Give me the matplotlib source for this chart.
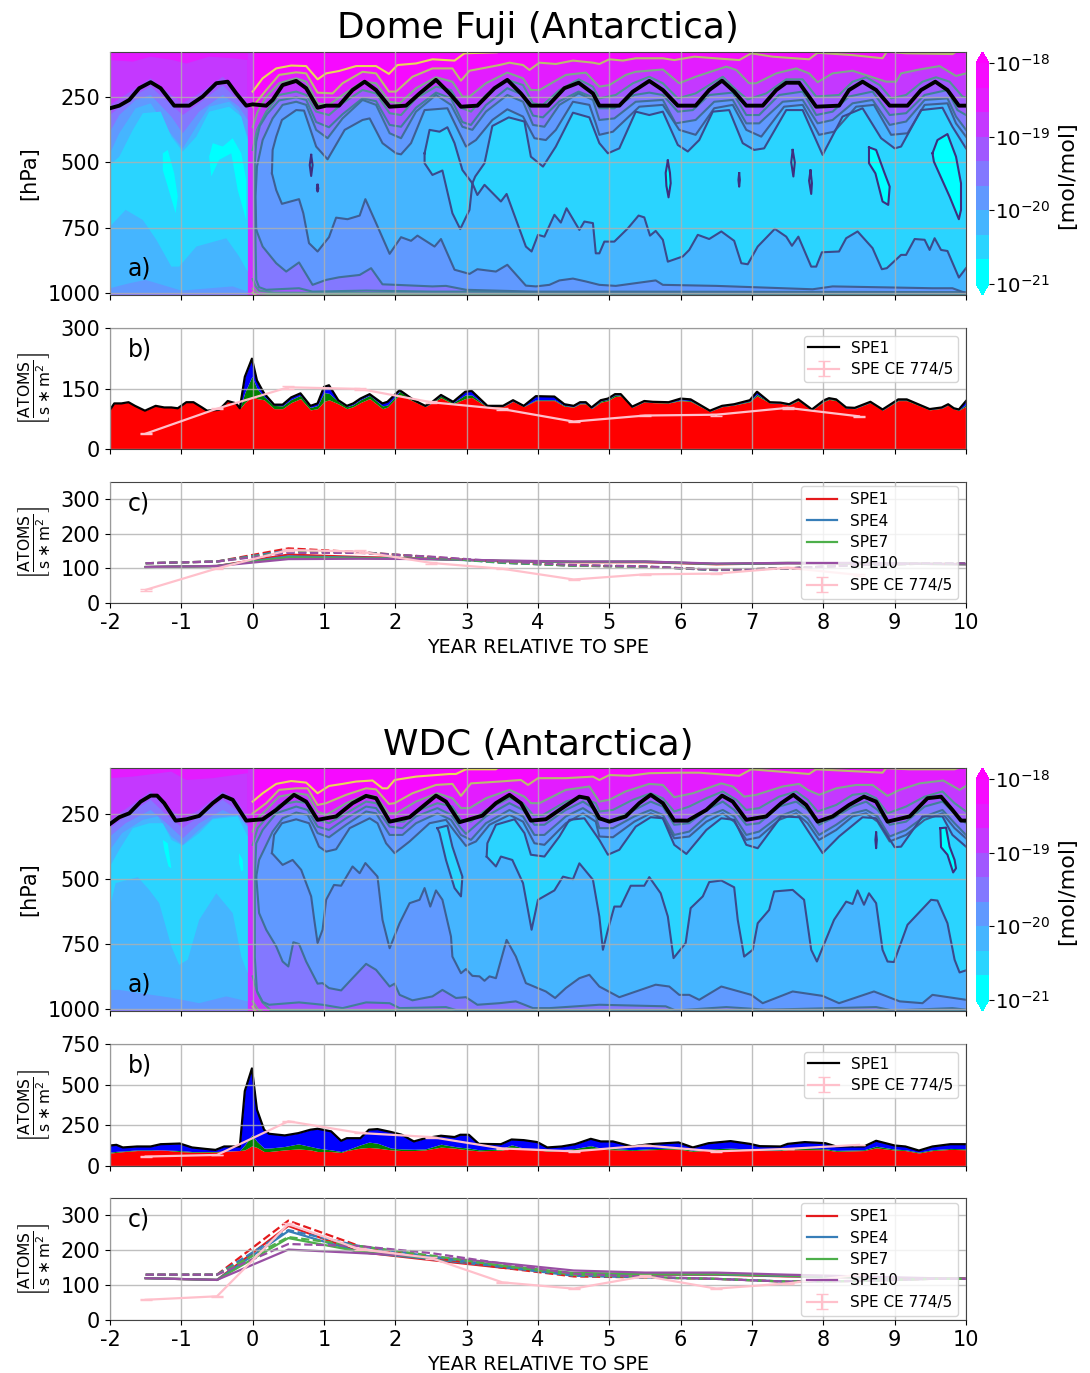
import matplotlib
matplotlib.use('Agg')
import matplotlib.pyplot as plt
from matplotlib.colors import ListedColormap, BoundaryNorm
from matplotlib.cm import ScalarMappable

# Dome Fuji, panel a, tropopause
df_trop_t = [-2, -1.87, -1.73, -1.59, -1.43, -1.29, -1.10, -0.89, -0.70, -0.51, -0.35, -0.23, -0.09, 0, 0.19, 0.28, 0.42, 0.61, 0.75, 0.91, 1.03, 1.21, 1.40, 1.57, 1.73, 1.92, 2.15, 2.34, 2.57, 2.76, 2.92, 3.15, 3.39, 3.57, 3.76, 3.90, 4.14, 4.37, 4.57, 4.77, 4.86, 5.14, 5.33, 5.56, 5.75, 5.96, 6.21, 6.40, 6.58, 6.75, 6.92, 7.15, 7.34, 7.48, 7.66, 7.90, 8.22, 8.36, 8.55, 8.74, 8.93, 9.18, 9.37, 9.57, 9.74, 9.90, 10]
df_trop_p = [292, 282, 260, 215, 192, 215, 282, 282, 247, 196, 190, 235, 282, 277, 282, 260, 203, 187, 215, 290, 282, 282, 222, 190, 222, 286, 282, 235, 183, 235, 286, 282, 215, 183, 235, 282, 282, 215, 194, 235, 282, 282, 228, 187, 222, 282, 282, 222, 186, 228, 282, 282, 222, 194, 194, 286, 282, 222, 190, 222, 282, 282, 222, 190, 222, 282, 282]

# Dome Fuji, contour upper and lower edges, years and hPa
df_A_t = [0, 0.14, 0.33, 0.54, 0.75, 0.91, 1.03, 1.21, 1.45, 1.73, 1.91, 2.03, 2.29, 2.52, 2.83, 2.97, 3.43, 3.5, 10]
df_A_p = [228, 177, 139, 128, 130, 181, 158, 149, 130, 130, 160, 126, 120, 104, 109, 81, 77, 60, 60]
df_B_t = [0, 0.19, 0.37, 0.61, 0.75, 0.91, 1.12, 1.26, 1.54, 1.73, 1.91, 2.01, 2.24, 2.52, 2.80, 2.92, 3.04, 3.46, 3.6, 3.79, 3.88, 4.02, 4.25, 4.49, 4.77, 4.86, 5.0, 5.19, 5.37, 5.75, 5.91, 6.19, 6.82, 6.99, 7.29, 7.8, 7.92, 8.41, 8.83, 8.89, 9.16, 9.81, 9.86, 10]
df_B_p = [286, 222, 164, 154, 158, 232, 235, 196, 152, 158, 228, 228, 171, 139, 139, 186, 148, 126, 117, 126, 145, 117, 122, 109, 117, 122, 104, 109, 100, 100, 107, 94, 107, 81, 94, 104, 79, 88, 100, 75, 81, 84, 75, 70]
df_C_t = [0, 0.07, 0.19, 0.37, 0.61, 0.75, 0.91, 1.07, 1.26, 1.54, 1.73, 1.92, 2.06, 2.29, 2.57, 2.8, 2.94, 3.04, 3.27, 3.57, 3.79, 3.9, 4.02, 4.39, 4.67, 4.86, 5, 5.23, 5.37, 5.75, 5.98, 6.21, 6.64, 6.78, 6.96, 7.06, 7.34, 7.62, 7.8, 7.92, 8.13, 8.41, 8.88, 9.02, 9.09, 9.35, 9.63, 9.86, 10]
df_C_p = [365, 305, 247, 196, 177, 190, 273, 279, 241, 190, 196, 267, 273, 215, 173, 190, 247, 247, 196, 155, 177, 222, 222, 164, 155, 209, 203, 164, 152, 143, 196, 171, 132, 145, 196, 196, 158, 139, 158, 192, 158, 148, 190, 190, 158, 143, 130, 168, 158]
df_D_t = [0, 0.06, 0.19, 0.37, 0.61, 0.75, 0.89, 1.07, 1.26, 1.54, 1.73, 1.92, 2.08, 2.29, 2.57, 2.78, 2.94, 3.06, 3.27, 3.57, 3.79, 3.93, 4.07, 4.3, 4.57, 4.77, 4.86, 5.09, 5.33, 5.56, 5.75, 5.96, 6.21, 6.59, 6.78, 6.94, 7.2, 7.48, 7.71, 7.9, 8.22, 8.41, 8.6, 8.79, 8.95, 9.16, 9.39, 9.58, 9.77, 9.95, 10]
df_D_p = [452, 375, 305, 241, 228, 241, 305, 318, 273, 222, 235, 311, 318, 254, 209, 222, 292, 305, 241, 183, 203, 273, 279, 222, 181, 209, 254, 241, 196, 171, 196, 254, 235, 171, 222, 258, 235, 181, 181, 247, 241, 190, 173, 203, 254, 241, 190, 173, 190, 247, 250]
df_E_t = [0.03, 0.05, 0.1, 0.2, 0.37, 0.61, 0.75, 0.89, 1.07, 1.26, 1.54, 1.73, 1.92, 2.08, 2.29, 2.57, 2.78, 2.94, 3.06, 3.27, 3.57, 3.79, 3.93, 4.07, 4.3, 4.57, 4.77, 4.86, 5.07, 5.35, 5.56, 5.75, 5.96, 6.17, 6.4, 6.73, 6.92, 7.1, 7.38, 7.71, 7.9, 8.13, 8.36, 8.69, 8.93, 9.16, 9.42, 9.74, 9.88, 10]
df_E_p = [500, 420, 360, 315, 262, 250, 260, 345, 365, 315, 254, 265, 356, 363, 290, 232, 254, 345, 356, 280, 215, 241, 320, 327, 265, 228, 250, 292, 292, 241, 232, 241, 305, 299, 241, 232, 318, 318, 241, 228, 318, 305, 247, 228, 318, 311, 241, 222, 299, 318]
df_F_t = [0.05, 0.04, 0.06, 0.14, 0.28, 0.42, 0.61, 0.75, 0.89, 1.05, 1.26, 1.54, 1.73, 1.92, 2.08, 2.29, 2.57, 2.78, 2.94, 3.08, 3.27, 3.57, 3.79, 3.93, 4.09, 4.3, 4.57, 4.77, 4.86, 5.07, 5.37, 5.75, 5.93, 6.21, 6.47, 6.73, 6.92, 7.1, 7.43, 7.71, 7.92, 8.13, 8.41, 8.69, 8.93, 9.16, 9.42, 9.74, 9.86, 10]
df_F_p = [759, 631, 516, 414, 331, 279, 267, 279, 375, 407, 331, 260, 279, 388, 407, 305, 241, 279, 363, 375, 305, 241, 267, 356, 363, 279, 235, 260, 337, 331, 267, 260, 350, 337, 267, 260, 350, 350, 267, 260, 350, 337, 273, 260, 356, 343, 260, 254, 324, 375]
df_G_t = [0.27, 0.28, 0.33, 0.41, 0.61, 0.72, 0.89, 1.05, 1.29, 1.54, 1.64, 1.82, 2.01, 2.08, 2.22, 2.41, 2.73, 2.9, 2.99, 3.13, 3.36, 3.57, 3.79, 3.95, 4.11, 4.25, 4.49, 4.72, 4.81, 4.86, 5.05, 5.42, 5.75, 5.98, 6.21, 6.47, 6.73, 6.92, 7.13, 7.45, 7.71, 7.94, 8.15, 8.46, 8.71, 8.95, 9.18, 9.42, 9.74, 9.86, 10]
df_G_p = [542, 452, 401, 337, 299, 301, 439, 488, 375, 337, 331, 426, 465, 469, 426, 299, 292, 388, 439, 414, 337, 296, 324, 407, 414, 375, 267, 279, 350, 394, 382, 286, 279, 375, 394, 292, 279, 375, 401, 286, 279, 394, 382, 286, 279, 394, 388, 279, 273, 350, 401]
df_H_t = [3.08, 3.12, 3.25, 3.36, 3.59, 3.81, 3.9, 4.07, 4.25, 4.49, 4.72, 4.86, 4.98, 5.14, 5.37, 5.56, 5.75, 5.96, 6.1, 6.26, 6.45, 6.68, 6.87, 7.03, 7.17, 7.48, 7.71, 7.99, 8.27, 8.55, 8.81, 9, 9.09, 9.37, 9.67, 9.81, 10]
df_H_p = [580, 554, 503, 360, 327, 343, 478, 516, 439, 309, 327, 426, 465, 446, 305, 318, 305, 433, 458, 414, 305, 299, 426, 452, 446, 299, 299, 471, 324, 292, 407, 446, 439, 299, 290, 363, 446]

df_Blo_t = [0, 0.06, 10]
df_Blo_p = [1000, 1014, 1014]
df_Clo_t = [0, 0.08, 0.4, 10]
df_Clo_p = [985, 1003, 1008, 1012]
df_Dlo_t = [0, 0.04, 0.09, 0.3, 3, 10]
df_Dlo_p = [948, 975, 992, 1000, 1003, 1006]
df_Elo_t = [0.03, 0.04, 0.05, 0.09, 0.19, 0.65, 0.84, 1.59, 2.52, 2.99, 3.93, 4.86, 10]
df_Elo_p = [500, 800, 951, 979, 989, 983, 996, 992, 996, 996, 998, 1002, 1004]
df_Flo_t = [0.05, 0.14, 0.33, 0.47, 0.65, 0.84, 1.03, 1.21, 1.5, 1.66, 1.82, 2.01, 2.52, 2.71, 2.99, 3.93, 4.86, 10]
df_Flo_p = [759, 823, 887, 919, 884, 970, 951, 941, 932, 906, 968, 970, 976, 974, 989, 996, 996, 998]
df_Glo_t = [0.27, 0.33, 0.41, 0.65, 0.71, 0.79, 0.91, 1.07, 1.17, 1.33, 1.5, 1.58, 1.73, 1.92, 2.08, 2.22, 2.31, 2.55, 2.64, 2.83, 3.04, 3.15, 3.41, 3.57, 3.83, 3.97, 4.16, 4.3, 4.49, 4.67, 4.86, 5.09, 5.65, 5.75, 6.5, 7.85, 8.13, 9.53, 9.81, 10]
df_Glo_p = [542, 606, 659, 641, 695, 810, 842, 787, 712, 718, 704, 641, 733, 851, 787, 801, 781, 823, 794, 912, 928, 910, 919, 893, 973, 976, 970, 953, 946, 957, 970, 974, 953, 970, 974, 987, 976, 983, 983, 1002]
df_Hlo_t = [3.08, 3.15, 3.25, 3.48, 3.56, 3.83, 3.91, 4, 4.09, 4.23, 4.32, 4.4, 4.58, 4.65, 4.77, 4.81, 4.86, 4.93, 5.07, 5.26, 5.41, 5.49, 5.57, 5.65, 5.75, 5.82, 6.03, 6.12, 6.24, 6.4, 6.57, 6.75, 6.85, 6.94, 7.08, 7.32, 7.48, 7.56, 7.65, 7.83, 7.9, 7.98, 8.22, 8.32, 8.48, 8.69, 8.82, 8.89, 9.09, 9.16, 9.28, 9.42, 9.49, 9.56, 9.65, 9.74, 9.9, 10]
df_Hlo_p = [580, 625, 586, 650, 621, 823, 842, 778, 785, 701, 731, 676, 759, 727, 733, 849, 849, 804, 804, 753, 704, 711, 781, 763, 797, 881, 861, 836, 778, 794, 765, 801, 887, 891, 823, 755, 785, 820, 785, 900, 900, 845, 842, 791, 765, 829, 910, 906, 855, 855, 794, 797, 836, 791, 836, 840, 942, 906]

df_H_isl_t = [2.41, 2.48, 2.62, 2.73, 2.83, 2.94, 3.08, 3.04, 2.91, 2.8, 2.66, 2.52, 2.41, 2.41]
df_H_isl_p = [465, 375, 382, 365, 426, 529, 580, 682, 756, 695, 531, 548, 503, 465]
df_I_isl_t = [[0.82, 0.84, 0.82, 0.80, 0.82], [0.91, 0.92, 0.91, 0.90, 0.91], [5.82, 5.85, 5.86, 5.83, 5.8, 5.79, 5.82], [6.82, 6.83, 6.82, 6.81, 6.82], [7.57, 7.6, 7.58, 7.55, 7.57], [7.82, 7.84, 7.83, 7.8, 7.82], [8.64, 8.74, 8.85, 8.93, 8.91, 8.83, 8.73, 8.64, 8.64], [9.53, 9.6, 9.74, 9.86, 9.93, 9.93, 9.9, 9.77, 9.55, 9.53]]
df_I_isl_p = [[471, 510, 552, 510, 471], [586, 600, 612, 600, 586], [493, 540, 580, 634, 590, 540, 493], [541, 567, 593, 567, 541], [452, 500, 554, 500, 452], [531, 580, 621, 570, 531], [442, 452, 535, 593, 663, 650, 542, 503, 442], [465, 414, 391, 478, 580, 682, 718, 631, 497, 465]]

# Dome Fuji, time before the event
df_LC_t = [-2, -1.68, -1.43, -1.12, -0.93, -0.61, -0.28, -0.07]
df_LC_p = [107, 113, 94, 107, 120, 94, 100, 107]
df_LD_t = [-2, -1.68, -1.43, -1.14, -0.98, -0.75, -0.42, -0.19, -0.07]
df_LD_p = [279, 222, 177, 241, 273, 235, 171, 235, 273]
df_LE_p = [318, 247, 209, 279, 318, 273, 203, 267, 299]
df_LF_t = [-2, -1.87, -1.64, -1.43, -1.14, -0.98, -0.75, -0.42, -0.19, -0.07]
df_LF_p = [382, 318, 260, 241, 324, 388, 305, 241, 286, 337]
df_LG_t = [-2, -1.87, -1.64, -1.43, -1.19, -0.98, -0.79, -0.61, -0.33, -0.19, -0.07]
df_LG_p = [465, 388, 292, 273, 375, 446, 363, 286, 267, 305, 401]
df_LGlo_t = [-2, -1.73, -1.5, -1, -0.28, -0.07]
df_LGlo_p = [983, 964, 951, 992, 976, 996]
df_LH_t = [-2, -1.87, -1.68, -1.54, -1.29, -1.14, -0.98, -0.79, -0.61, -0.33, -0.16, -0.07]
df_LH_p = [510, 478, 375, 311, 305, 401, 458, 401, 305, 286, 324, 414]
df_LHlo_t = [-2, -1.78, -1.54, -1.35, -1.14, -1.03, -0.79, -0.37, -0.19, -0.07]
df_LHlo_p = [746, 682, 721, 797, 900, 900, 823, 791, 861, 919]
df_LI_t = [[-1.26, -1.19, -1.1, -1.05, -1.08, -1.19, -1.26], [-0.61, -0.56, -0.42, -0.28, -0.16, -0.09, -0.09, -0.21, -0.3, -0.47, -0.58]]
df_LI_p = [[465, 452, 542, 631, 695, 593, 529], [478, 426, 439, 407, 465, 567, 721, 606, 465, 490, 554]]

# Dome Fuji, panel b
df_b_t = [-2, -1.94, -1.84, -1.74, -1.65, -1.51, -1.36, -1.24, -1.14, -1.05, -0.93, -0.83, -0.71, -0.64, -0.47, -0.35, -0.23, -0.18, -0.11, -0.01, 0.06, 0.16, 0.3, 0.42, 0.54, 0.67, 0.81, 0.91, 1.0, 1.07, 1.2, 1.32, 1.41, 1.51, 1.64, 1.82, 1.89, 2.06, 2.26, 2.42, 2.52, 2.64, 2.81, 2.98, 3.07, 3.29, 3.51, 3.65, 3.8, 3.97, 4.23, 4.37, 4.5, 4.59, 4.67, 4.75, 4.88, 4.98, 5.08, 5.16, 5.32, 5.49, 5.61, 5.83, 6.0, 6.14, 6.41, 6.58, 6.75, 6.97, 7.07, 7.25, 7.4, 7.52, 7.65, 7.84, 8.01, 8.08, 8.18, 8.32, 8.44, 8.66, 8.83, 9.05, 9.17, 9.49, 9.66, 9.75, 9.83, 9.9, 10]
df_b_blue = [97, 113, 113, 116, 107, 95, 107, 103, 103, 101, 116, 116, 103, 95, 97, 119, 113, 101, 179, 224, 170, 138, 110, 110, 128, 138, 107, 113, 154, 158, 121, 107, 113, 125, 136, 113, 117, 146, 121, 107, 117, 134, 117, 142, 144, 107, 107, 121, 107, 131, 130, 111, 107, 116, 116, 103, 121, 125, 136, 136, 105, 119, 117, 116, 125, 123, 95, 107, 111, 121, 142, 116, 115, 111, 123, 98, 121, 126, 123, 103, 102, 117, 98, 123, 123, 99, 103, 111, 101, 98, 119]
df_b_green = [97, 113, 113, 116, 107, 95, 107, 103, 103, 101, 116, 116, 103, 95, 97, 119, 113, 101, 140, 180, 150, 130, 108, 107, 123, 133, 103, 108, 140, 138, 118, 105, 110, 122, 133, 107, 109, 143, 120, 106, 116, 132, 115, 134, 134, 105, 106, 119, 106, 122, 122, 108, 105, 114, 114, 101, 119, 123, 134, 134, 104, 118, 116, 115, 122, 120, 94, 106, 110, 119, 136, 115, 114, 110, 122, 97, 120, 125, 122, 102, 101, 116, 97, 122, 122, 98, 102, 110, 100, 97, 110]
df_b_red = [97, 113, 113, 116, 107, 95, 107, 103, 103, 101, 116, 116, 103, 95, 97, 119, 113, 100, 115, 130, 125, 122, 100, 100, 115, 125, 97, 100, 118, 122, 112, 100, 105, 115, 125, 100, 104, 135, 118, 105, 115, 127, 112, 125, 128, 104, 105, 118, 105, 120, 120, 106, 104, 112, 112, 100, 116, 120, 130, 132, 103, 117, 115, 114, 120, 118, 93, 105, 109, 117, 132, 114, 113, 109, 120, 96, 118, 123, 120, 101, 100, 115, 96, 120, 120, 97, 101, 109, 99, 96, 106]

# WDC, panel a, tropopause
wd_trop_t = [-2, -1.87, -1.73, -1.57, -1.43, -1.34, -1.24, -1.08, -0.93, -0.75, -0.56, -0.42, -0.28, -0.09, 0.14, 0.33, 0.58, 0.75, 0.91, 1.17, 1.4, 1.59, 1.73, 1.92, 2.2, 2.57, 2.71, 2.9, 3.22, 3.41, 3.6, 3.76, 3.9, 4.11, 4.37, 4.58, 4.7, 4.86, 5, 5.23, 5.42, 5.58, 5.75, 5.91, 6.1, 6.36, 6.58, 6.73, 6.92, 7.2, 7.41, 7.58, 7.76, 7.92, 8.13, 8.36, 8.57, 8.74, 8.9, 9.21, 9.46, 9.65, 9.81, 9.93, 10]
wd_trop_p = [289, 263, 248, 203, 180, 180, 209, 276, 271, 258, 209, 180, 196, 276, 271, 235, 177, 203, 273, 260, 209, 181, 190, 280, 263, 180, 203, 282, 257, 209, 177, 209, 276, 271, 222, 184, 190, 267, 280, 260, 209, 177, 209, 276, 276, 235, 180, 203, 273, 260, 209, 177, 216, 280, 260, 216, 184, 203, 280, 260, 190, 184, 235, 276, 276]

wd_A_t = [0, 0.14, 0.33, 0.54, 0.75, 0.91, 1.07, 1.26, 1.45, 1.68, 1.82, 1.89, 1.99, 2.29, 2.76, 2.85, 2.99, 3.41, 3.5, 10]
wd_A_p = [203, 171, 135, 124, 130, 171, 143, 135, 126, 122, 152, 152, 120, 107, 97, 97, 79, 79, 60, 60]
wd_B_t = [0, 0.19, 0.37, 0.61, 0.77, 0.91, 1.03, 1.31, 1.59, 1.73, 1.91, 1.99, 2.24, 2.57, 2.8, 2.92, 3.06, 3.46, 3.76, 3.86, 4, 4.39, 4.77, 4.86, 5, 5.28, 5.56, 5.98, 6.26, 6.82, 6.99, 7.8, 7.9, 8.83, 8.88, 9.21, 9.84, 9.88, 10]
wd_B_p = [248, 209, 158, 152, 152, 216, 209, 177, 152, 156, 212, 209, 171, 139, 135, 181, 133, 126, 120, 139, 113, 113, 107, 120, 101, 104, 94, 92, 92, 104, 79, 97, 79, 92, 75, 79, 79, 75, 70]
wd_C_t = [0, 0.07, 0.19, 0.37, 0.61, 0.77, 0.91, 1.03, 1.31, 1.59, 1.73, 1.91, 2.01, 2.29, 2.59, 2.8, 2.92, 3.04, 3.27, 3.6, 3.81, 3.9, 4.02, 4.39, 4.72, 4.86, 5, 5.23, 5.56, 5.75, 5.91, 6.17, 6.57, 6.73, 6.89, 7.06, 7.43, 7.66, 7.78, 7.94, 8.18, 8.46, 8.69, 8.9, 9.07, 9.35, 9.68, 9.91, 10]
wd_C_p = [318, 267, 235, 184, 171, 177, 241, 254, 209, 177, 184, 248, 248, 203, 171, 190, 228, 228, 190, 158, 184, 209, 209, 158, 145, 203, 196, 164, 135, 139, 186, 171, 133, 145, 184, 177, 145, 135, 158, 177, 152, 139, 139, 181, 158, 133, 122, 158, 143]
wd_D_t = [0, 0.07, 0.23, 0.37, 0.61, 0.77, 0.91, 1.07, 1.31, 1.59, 1.73, 1.95, 2.12, 2.29, 2.59, 2.8, 2.92, 3.06, 3.27, 3.6, 3.79, 3.93, 4.07, 4.39, 4.6, 4.81, 4.86, 5.05, 5.33, 5.58, 5.75, 5.91, 6.12, 6.36, 6.59, 6.78, 6.92, 7.1, 7.38, 7.62, 7.78, 7.92, 8.18, 8.41, 8.6, 8.74, 8.9, 9.16, 9.42, 9.67, 9.84, 10]
wd_D_p = [369, 305, 254, 216, 203, 209, 273, 286, 248, 203, 209, 280, 280, 241, 209, 222, 273, 280, 235, 190, 209, 254, 254, 203, 186, 209, 241, 235, 196, 171, 190, 241, 222, 190, 164, 196, 235, 228, 184, 164, 196, 241, 216, 177, 171, 190, 248, 222, 184, 164, 209, 241]
wd_E_t = [0.03, 0.05, 0.14, 0.33, 0.61, 0.77, 0.91, 1.07, 1.31, 1.59, 1.73, 1.92, 2.1, 2.29, 2.59, 2.78, 2.92, 2.99, 3.27, 3.6, 3.79, 3.95, 4.09, 4.39, 4.63, 4.81, 4.86, 5.05, 5.35, 5.58, 5.75, 5.91, 6.12, 6.36, 6.59, 6.75, 6.92, 7.1, 7.38, 7.62, 7.78, 7.94, 8.18, 8.41, 8.6, 8.76, 8.93, 9.16, 9.42, 9.67, 9.84, 10]
wd_E_p = [491, 363, 312, 248, 222, 235, 299, 312, 267, 222, 228, 299, 305, 260, 228, 254, 305, 327, 260, 209, 235, 292, 292, 235, 203, 235, 273, 273, 235, 203, 222, 292, 286, 235, 203, 235, 292, 286, 222, 203, 235, 292, 260, 222, 203, 235, 292, 280, 222, 203, 248, 286]
wd_F_t = [0.05, 0.09, 0.28, 0.42, 0.61, 0.77, 0.91, 1.07, 1.31, 1.59, 1.73, 1.92, 2.1, 2.29, 2.59, 2.78, 2.92, 3.06, 3.27, 3.6, 3.79, 3.95, 4.09, 4.39, 4.63, 4.81, 4.86, 5.05, 5.35, 5.58, 5.75, 5.91, 6.12, 6.36, 6.59, 6.75, 6.92, 7.1, 7.38, 7.62, 7.78, 7.94, 8.18, 8.41, 8.6, 8.76, 8.93, 9.16, 9.42, 9.67, 9.84, 10]
wd_F_p = [491, 427, 318, 267, 245, 254, 324, 340, 292, 241, 248, 331, 331, 286, 248, 273, 331, 350, 286, 235, 260, 331, 331, 260, 228, 260, 305, 305, 260, 235, 254, 331, 318, 260, 235, 260, 331, 318, 260, 235, 267, 331, 292, 248, 235, 260, 337, 312, 260, 235, 286, 331]
wd_G_t = [0.27, 0.3, 0.41, 0.61, 0.79, 0.93, 1.03, 1.17, 1.36, 1.64, 1.75, 1.87, 1.99, 2.2, 2.48, 2.71, 2.85, 2.99, 3.13, 3.32, 3.6, 3.79, 3.95, 4.09, 4.39, 4.63, 4.81, 4.86, 5.05, 5.35, 5.58, 5.75, 5.91, 6.12, 6.36, 6.59, 6.75, 6.92, 7.1, 7.38, 7.62, 7.78, 7.94, 8.18, 8.41, 8.6, 8.76, 8.93, 9.16, 9.42, 9.67, 9.84, 10]
wd_G_p = [401, 331, 286, 271, 286, 376, 395, 386, 305, 267, 286, 363, 401, 356, 286, 273, 324, 373, 356, 292, 254, 280, 363, 369, 286, 248, 280, 337, 340, 280, 248, 267, 344, 337, 280, 248, 280, 350, 340, 273, 248, 286, 350, 312, 260, 248, 280, 356, 331, 273, 248, 305, 344]
wd_H_t = [3.28, 3.29, 3.41, 3.67, 3.81, 3.9, 4.09, 4.3, 4.44, 4.65, 4.86, 4.98, 5.14, 5.37, 5.58, 5.75, 5.91, 6.08, 6.36, 6.57, 6.75, 6.92, 7.08, 7.41, 7.66, 7.99, 8.22, 8.55, 8.74, 9, 9.09, 9.39, 9.67, 9.81, 10]
wd_H_p = [414, 363, 292, 271, 324, 407, 414, 337, 273, 267, 350, 407, 388, 299, 263, 267, 369, 404, 312, 267, 273, 369, 382, 260, 263, 401, 337, 263, 267, 378, 376, 260, 260, 331, 376]

wd_Blo_t = [0, 0.05, 10]
wd_Blo_p = [990, 1012, 1012]
wd_Clo_t = [0, 0.07, 0.15, 10]
wd_Clo_p = [970, 1000, 1012, 1012]
wd_Dlo_t = [0, 0.07, 0.14, 0.25, 10]
wd_Dlo_p = [874, 940, 975, 1003, 1006]
wd_Elo_t = [0.03, 0.03, 0.06, 0.14, 0.23, 0.65, 0.98, 1.26, 1.59, 1.92, 2.06, 2.71, 2.87, 10]
wd_Elo_p = [491, 800, 930, 972, 983, 974, 983, 996, 974, 977, 996, 992, 1005, 1006]
wd_Flo_t = [0.05, 0.09, 0.19, 0.33, 0.42, 0.5, 0.57, 0.65, 0.75, 0.91, 0.98, 1.07, 1.24, 1.4, 1.59, 1.73, 1.92, 1.99, 2.06, 2.24, 2.52, 2.66, 2.85, 2.99, 3.15, 3.46, 3.69, 3.93, 4.16, 4.86, 5.79, 5.93, 6.64, 7.2, 8.74, 8.97, 9.81, 10]
wd_Flo_p = [491, 631, 695, 759, 817, 836, 743, 750, 817, 902, 900, 919, 928, 881, 826, 849, 913, 902, 945, 966, 951, 926, 957, 954, 983, 977, 970, 996, 996, 983, 989, 1005, 992, 1002, 992, 1005, 996, 1002]
wd_Glo_t = [0.27, 0.42, 0.56, 0.68, 0.82, 0.86, 0.91, 0.98, 1.03, 1.14, 1.24, 1.4, 1.5, 1.58, 1.75, 1.82, 1.92, 2.06, 2.2, 2.34, 2.41, 2.49, 2.57, 2.66, 2.78, 2.8, 2.92, 2.99, 3.08, 3.18, 3.25, 3.32, 3.41, 3.56, 3.69, 3.83, 4.11, 4.24, 4.39, 4.58, 4.72, 4.86, 5.14, 5.65, 5.84, 5.98, 6.12, 6.26, 6.57, 6.99, 7.15, 7.57, 7.99, 8.22, 8.71, 9.07, 9.39, 9.53, 10]
wd_Glo_p = [401, 446, 427, 465, 567, 650, 746, 695, 580, 523, 526, 452, 478, 439, 491, 657, 766, 670, 593, 580, 535, 606, 544, 580, 721, 798, 862, 846, 872, 874, 891, 874, 881, 734, 798, 900, 932, 957, 919, 881, 868, 913, 954, 906, 913, 945, 945, 964, 913, 945, 977, 932, 949, 977, 932, 970, 977, 945, 964]
wd_Hlo_t = [3.28, 3.41, 3.48, 3.64, 3.79, 3.91, 4, 4.23, 4.35, 4.49, 4.58, 4.77, 4.86, 4.91, 4.98, 5.07, 5.16, 5.3, 5.49, 5.56, 5.72, 5.82, 5.9, 6.07, 6.14, 6.31, 6.4, 6.57, 6.75, 6.8, 6.89, 7.01, 7.08, 7.24, 7.31, 7.57, 7.73, 7.83, 7.91, 8.15, 8.32, 8.41, 8.48, 8.57, 8.64, 8.74, 8.83, 8.9, 8.99, 9.18, 9.51, 9.6, 9.74, 9.84, 9.91, 10]
wd_Hlo_p = [414, 452, 414, 427, 516, 695, 580, 544, 491, 501, 440, 503, 644, 772, 695, 606, 606, 526, 526, 493, 555, 644, 804, 746, 612, 567, 512, 506, 532, 657, 798, 772, 670, 619, 548, 542, 580, 772, 817, 657, 587, 596, 544, 599, 555, 593, 772, 817, 819, 676, 580, 583, 670, 810, 859, 851]

wd_H_isl_t = [2.59, 2.73, 2.8, 2.94, 2.92, 2.83, 2.71, 2.62, 2.59]
wd_H_isl_p = [305, 295, 376, 491, 567, 535, 427, 324, 305]
wd_I_isl_t = [[8.74, 8.75, 8.74, 8.73, 8.74], [9.64, 9.72, 9.77, 9.84, 9.86, 9.82, 9.74, 9.65, 9.64]]
wd_I_isl_p = [[322, 350, 382, 350, 322], [305, 303, 376, 427, 459, 475, 407, 378, 305]]

wd_LC_t = [-2, -1.68, -1.14, -0.93, -0.56, -0.07]
wd_LC_p = [113, 107, 88, 120, 113, 94]
wd_LD_t = [-2, -1.73, -1.43, -1.21, -0.98, -0.75, -0.42, -0.23, -0.07]
wd_LD_p = [273, 222, 164, 222, 267, 235, 164, 196, 267]
wd_LE_p = [305, 248, 196, 254, 305, 260, 196, 235, 292]
wd_LF_t = [-2, -1.78, -1.43, -1.21, -0.98, -0.75, -0.42, -0.23, -0.07]
wd_LF_p = [337, 286, 235, 286, 344, 286, 235, 260, 318]
wd_LG_t = [-2, -1.83, -1.54, -1.33, -1.14, -0.98, -0.75, -0.56, -0.21, -0.07]
wd_LG_p = [388, 324, 273, 260, 337, 369, 312, 267, 254, 299]
wd_LGlo_t = [-2, -1.87, -1.59, -1.12, -0.75, -0.37, -0.07]
wd_LGlo_p = [926, 926, 938, 957, 977, 951, 970]
wd_LH_t = [-2, -1.87, -1.68, -1.45, -1.26, -1.14, -0.98, -0.75, -0.56, -0.21, -0.07]
wd_LH_p = [452, 388, 305, 286, 286, 350, 372, 324, 271, 260, 337]
wd_LHlo_t = [-2, -1.92, -1.61, -1.45, -1.31, -1.14, -1.03, -0.91, -0.75, -0.51, -0.28, -0.16, -0.07]
wd_LHlo_p = [606, 516, 493, 542, 593, 759, 830, 810, 657, 555, 631, 798, 862]
wd_LI_t = [[-1.26, -1.19, -1.14, -1.18, -1.24], [-0.19, -0.14, -0.13, -0.16, -0.19]]
wd_LI_p = [[350, 363, 459, 452, 388], [401, 427, 465, 471, 439]]

# WDC, panel b
wd_b_t = [-2, -1.91, -1.82, -1.62, -1.43, -1.29, -1.02, -0.85, -0.66, -0.52, -0.4, -0.18, -0.11, -0.01, 0.06, 0.16, 0.23, 0.45, 0.64, 0.81, 0.91, 1.1, 1.24, 1.32, 1.51, 1.63, 1.75, 1.94, 2.09, 2.26, 2.42, 2.64, 2.83, 2.91, 3.03, 3.17, 3.48, 3.63, 3.8, 3.99, 4.13, 4.33, 4.52, 4.74, 4.88, 5.05, 5.32, 5.56, 5.97, 6.17, 6.39, 6.7, 6.97, 7.11, 7.4, 7.5, 7.74, 8.03, 8.18, 8.57, 8.74, 9, 9.15, 9.34, 9.53, 9.78, 10]
wd_b_blue = [126, 130, 114, 120, 120, 134, 138, 114, 105, 99, 120, 120, 461, 600, 347, 223, 198, 188, 202, 223, 229, 213, 155, 171, 171, 223, 227, 209, 192, 151, 171, 186, 178, 192, 192, 136, 134, 163, 159, 147, 114, 120, 134, 167, 151, 151, 120, 134, 145, 114, 140, 153, 136, 122, 120, 136, 147, 140, 120, 120, 155, 126, 120, 95, 120, 134, 134]
wd_b_green = [85, 90, 92, 99, 99, 99, 95, 89, 89, 89, 92, 95, 130, 192, 151, 110, 110, 120, 136, 120, 110, 99, 89, 99, 130, 147, 140, 110, 105, 103, 105, 134, 120, 115, 110, 100, 105, 130, 110, 108, 98, 100, 108, 125, 110, 108, 100, 106, 112, 96, 105, 110, 104, 100, 100, 106, 108, 106, 96, 100, 122, 104, 100, 85, 100, 108, 106]
wd_b_red = [79, 84, 88, 95, 95, 99, 89, 85, 85, 85, 90, 95, 99, 124, 114, 89, 89, 99, 105, 99, 89, 89, 83, 95, 110, 114, 110, 99, 95, 95, 99, 116, 110, 105, 99, 93, 97, 110, 103, 99, 92, 96, 100, 108, 102, 100, 95, 100, 104, 90, 98, 102, 98, 95, 95, 100, 100, 100, 90, 95, 112, 98, 95, 80, 95, 102, 100]

# panel c, half-yearly means
c_t = [-1.5, -0.5, 0.5, 1.5, 2.5, 3.5, 4.5, 5.5, 6.5, 7.5, 8.5, 9.5, 10.5]
df_c_spe1 = [104, 107, 140, 133, 128, 121, 118, 118, 112, 115, 114, 113, 112]
df_c_spe4 = [104, 107, 135, 131, 127, 121, 119, 119, 113, 115, 115, 113, 112]
df_c_spe7 = [104, 107, 132, 130, 127, 122, 119, 120, 113, 116, 115, 113, 112]
df_c_spe10 = [104, 107, 127, 128, 127, 123, 120, 120, 114, 116, 116, 113, 112]
df_d_spe1 = [115, 120, 158, 147, 133, 117, 108, 105, 96, 100, 110, 114, 114]
df_d_spe4 = [115, 120, 152, 147, 132, 116, 108, 105, 95, 100, 110, 114, 114]
df_d_spe7 = [115, 120, 148, 146, 132, 117, 108, 105, 96, 100, 110, 114, 114]
df_d_spe10 = [115, 120, 145, 145, 134, 120, 110, 106, 96, 100, 110, 115, 114]
wd_c_spe1 = [120, 115, 270, 195, 172, 150, 132, 130, 130, 125, 122, 118, 118]
wd_c_spe4 = [120, 115, 255, 195, 175, 152, 133, 131, 131, 126, 122, 118, 118]
wd_c_spe7 = [120, 115, 235, 196, 178, 156, 135, 132, 132, 127, 123, 118, 118]
wd_c_spe10 = [120, 115, 202, 192, 182, 163, 142, 136, 136, 130, 125, 120, 118]
wd_d_spe1 = [130, 130, 285, 212, 180, 150, 125, 122, 118, 110, 112, 118, 118]
wd_d_spe4 = [130, 130, 258, 212, 182, 152, 127, 122, 118, 110, 112, 118, 118]
wd_d_spe7 = [130, 130, 238, 212, 185, 155, 130, 123, 118, 110, 112, 118, 118]
wd_d_spe10 = [130, 130, 218, 212, 192, 162, 133, 124, 118, 110, 112, 118, 118]

# ice core record
ce_t = [-1.5, -0.5, 0.5, 1.5, 2.5, 3.5, 4.5, 5.5, 6.5, 7.5, 8.5]
df_ce = [38, 100, 153, 149, 116, 99, 68, 83, 85, 102, 81]
wd_ce = [58, 68, 275, 203, 178, 108, 90, 126, 90, 105, 130]
ce_err = [2, 2, 3, 3, 3, 2, 2, 2, 2, 2, 2]

year_labels = ['-2', '-1', '0', '1', '2', '3', '4', '5', '6', '7', '8', '9', '10']
years = list(range(-2, 11))
p_ticks = [250, 500, 750, 1000]
cbar_levels = [1e-21, 10**-20.667, 10**-20.333, 1e-20, 10**-19.667, 10**-19.333, 1e-19, 10**-18.667, 10**-18.333, 1e-18]
cbar_ticks = [1e-21, 1e-20, 1e-19, 1e-18]
cbar_labels = ['$10^{-21}$', '$10^{-20}$', '$10^{-19}$', '$10^{-18}$']

W, H = 1090, 1373
BAND = {'A': '#F60AFF', 'B': '#E31CFF', 'C': '#C438FF', 'D': '#A058FF', 'E': '#8378FF',
        'F': '#6099FF', 'G': '#45B5FF', 'H': '#2AD4FF', 'I': '#00FFFF'}
LINE = {'A': '#E8D858', 'B': '#B9BC70', 'C': '#7DA88C', 'D': '#4F9296', 'E': '#40809A',
        'F': '#3F7098', 'G': '#3E5F93', 'H': '#3B4A8C', 'I': '#3E2F80'}
SPE_COL = ['#e41a1c', '#377eb8', '#4daf4a', '#984ea3']
ATOMS = r'$\left[\frac{\mathrm{ATOMS}}{\mathrm{s\ast m^2}}\right]$'

plt.rcParams['font.family'] = 'DejaVu Sans'
fig = plt.figure(figsize=(W / 100, H / 100), dpi=100)


def add_ax(x0, y0, x1, y1):
    return fig.add_axes([x0 / W, 1 - y1 / H, (x1 - x0) / W, (y1 - y0) / H])


def poly(ax, t, p, color, z=1):
    ax.fill(t, p, color=color, lw=0, zorder=z)


def level(ax, key, up_t, up_p, lo_t, lo_p):
    poly(ax, up_t + lo_t[::-1], up_p + lo_p[::-1], BAND[key])
    ax.plot(up_t, up_p, color=LINE[key], lw=1.5, zorder=2)
    ax.plot(lo_t, lo_p, color=LINE[key], lw=1.5, zorder=2)


def style_time(ax, labels=False):
    ax.set_xlim(-2, 10)
    ax.set_xticks(years)
    ax.set_xticklabels(year_labels if labels else [])
    ax.tick_params(labelsize=15, pad=3.5)
    ax.grid(True, color='#b0b0b0', lw=1.0, alpha=0.8)
    ax.set_axisbelow(False)
    for s in ax.spines.values():
        s.set_color('#444444')


def panel_a(ax, ylim, levels, left, trop):
    ax.set_facecolor(BAND['A'])
    ax.axvspan(-2, 0, color=BAND['B'], lw=0, zorder=0.5)
    ax.axvspan(-0.07, 0, color='#D02EFF', lw=0, zorder=0.7)
    # pre event bands
    bottom_t = [-2, -0.07]
    for key, t, p in left['open']:
        poly(ax, t + bottom_t[::-1], p + [1020, 1020], BAND[key])
    poly(ax, left['F_t'] + bottom_t[::-1], left['F_p'] + [1002, 1002], BAND['F'])
    poly(ax, left['G_t'] + left['Glo_t'][::-1], left['G_p'] + left['Glo_p'][::-1], BAND['G'])
    poly(ax, left['H_t'] + left['Hlo_t'][::-1], left['H_p'] + left['Hlo_p'][::-1], BAND['H'])
    for t, p in zip(left['I_t'], left['I_p']):
        poly(ax, t, p, BAND['I'])
    # after the event, nested contour regions
    for key, up_t, up_p, lo_t, lo_p in levels:
        level(ax, key, up_t, up_p, lo_t, lo_p)
    ax.plot(trop[0], trop[1], color='black', lw=2.8, zorder=4)
    ax.set_ylim(*ylim)
    ax.set_yticks(p_ticks)
    style_time(ax)
    ax.set_ylabel('[hPa]', fontsize=15)
    ax.yaxis.set_label_coords(-0.083, 0.5)
    ax.text(0.021, 0.11, 'a)', transform=ax.transAxes, fontsize=17, va='center', zorder=5)


def colorbar(y0, y1):
    cax = add_ax(976, y0, 989, y1)
    cmap = ListedColormap([BAND[k] for k in 'IHGFEDCBA'])
    cmap.set_under('#00FFFF')
    cmap.set_over('#FF00FF')
    norm = BoundaryNorm(cbar_levels, cmap.N)
    cb = fig.colorbar(ScalarMappable(norm=norm, cmap=cmap), cax=cax, extend='both',
                      extendfrac=0.05, spacing='uniform', ticks=cbar_ticks)
    cb.set_ticklabels(cbar_labels)
    cb.ax.minorticks_off()
    cb.ax.tick_params(labelsize=14.2, length=3.5, pad=1)
    cb.outline.set_visible(False)
    fig.text(1067 / W, 1 - (y0 + 123) / H, '[mol/mol]', rotation=90, fontsize=16,
             ha='center', va='center')


def panel_b(ax, t, red, green, blue, ymax, yticks, ce):
    ax.fill_between(t, 0, red, color='red', lw=0, zorder=1)
    ax.fill_between(t, red, green, color='green', lw=0, zorder=1)
    ax.fill_between(t, green, blue, color='blue', lw=0, zorder=1)
    ax.plot(t, blue, color='black', lw=1.6, label='SPE1', zorder=2)
    ax.errorbar(ce_t, ce, yerr=ce_err, color='pink', lw=1.6, capsize=4.5, label='SPE CE 774/5', zorder=3)
    ax.set_ylim(0, ymax)
    ax.set_yticks(yticks)
    style_time(ax)
    ax.set_ylabel(ATOMS, fontsize=16)
    ax.yaxis.set_label_coords(-0.066, 0.5)
    ax.text(0.021, 0.82, 'b)', transform=ax.transAxes, fontsize=17, va='center', zorder=5)
    ax.legend(loc='upper right', bbox_to_anchor=(0.9907, 0.934), fontsize=11, borderaxespad=0,
              labelspacing=0.42, borderpad=0.3)


def panel_c(ax, solid, dashed, ce):
    names = ['SPE1', 'SPE4', 'SPE7', 'SPE10']
    for vals, col, name in zip(solid, SPE_COL, names):
        ax.plot(c_t, vals, color=col, lw=1.6, label=name, zorder=2)
    for vals, col in zip(dashed, SPE_COL):
        ax.plot(c_t, vals, color=col, lw=1.6, ls='--', zorder=2)
    ax.errorbar(ce_t, ce, yerr=ce_err, color='pink', lw=1.6, capsize=4.5, label='SPE CE 774/5', zorder=3)
    ax.set_ylim(0, 350)
    ax.set_yticks([0, 100, 200, 300])
    style_time(ax, labels=True)
    ax.set_ylabel(ATOMS, fontsize=16)
    ax.yaxis.set_label_coords(-0.066, 0.5)
    ax.text(0.021, 0.826, 'c)', transform=ax.transAxes, fontsize=17, va='center', zorder=5)
    ax.set_xlabel('YEAR RELATIVE TO SPE', fontsize=13.8, labelpad=4)
    ax.legend(loc='lower right', bbox_to_anchor=(0.9907, 0.033), fontsize=11, borderaxespad=0,
              labelspacing=0.42)


# Dome Fuji
top_t = [0, 10]
ax = add_ax(110, 52, 966, 295)
df_levels = [
    ('A', df_A_t, df_A_p, top_t, [1020, 1020]),
    ('B', df_B_t, df_B_p, df_Blo_t, df_Blo_p),
    ('C', df_C_t, df_C_p, df_Clo_t, df_Clo_p),
    ('D', df_D_t, df_D_p, df_Dlo_t, df_Dlo_p),
    ('E', df_E_t, df_E_p, df_Elo_t, df_Elo_p),
    ('F', df_F_t, df_F_p, df_Flo_t, df_Flo_p),
    ('G', df_G_t, df_G_p, df_Glo_t, df_Glo_p),
    ('H', df_H_t, df_H_p, df_Hlo_t, df_Hlo_p),
    ('H', df_H_isl_t, df_H_isl_p, df_H_isl_t[:1], df_H_isl_p[:1]),
]
df_left = {'open': [('C', df_LC_t, df_LC_p), ('D', df_LD_t, df_LD_p), ('E', df_LD_t, df_LE_p)],
           'F_t': df_LF_t, 'F_p': df_LF_p, 'G_t': df_LG_t, 'G_p': df_LG_p, 'Glo_t': df_LGlo_t, 'Glo_p': df_LGlo_p,
           'H_t': df_LH_t, 'H_p': df_LH_p, 'Hlo_t': df_LHlo_t, 'Hlo_p': df_LHlo_p, 'I_t': df_LI_t, 'I_p': df_LI_p}
panel_a(ax, (1009, 76), df_levels, df_left, (df_trop_t, df_trop_p))
for t, p in zip(df_I_isl_t, df_I_isl_p):
    poly(ax, t, p, BAND['I'], 2)
    ax.plot(t, p, color=LINE['I'], lw=1.5, zorder=3)
colorbar(52, 295)
fig.text(538 / W, 1 - 28 / H, 'Dome Fuji (Antarctica)', fontsize=25.8, ha='center', va='center')

ax = add_ax(110, 328, 966, 449)
panel_b(ax, df_b_t, df_b_red, df_b_green, df_b_blue, 300, [0, 150, 300], df_ce)
ax = add_ax(110, 482, 966, 603)
panel_c(ax, [df_c_spe1, df_c_spe4, df_c_spe7, df_c_spe10], [df_d_spe1, df_d_spe4, df_d_spe7, df_d_spe10], df_ce)

# WDC
ax = add_ax(110, 768, 966, 1011)
wd_levels = [
    ('A', wd_A_t, wd_A_p, top_t, [1020, 1020]),
    ('B', wd_B_t, wd_B_p, wd_Blo_t, wd_Blo_p),
    ('C', wd_C_t, wd_C_p, wd_Clo_t, wd_Clo_p),
    ('D', wd_D_t, wd_D_p, wd_Dlo_t, wd_Dlo_p),
    ('E', wd_E_t, wd_E_p, wd_Elo_t, wd_Elo_p),
    ('F', wd_F_t, wd_F_p, wd_Flo_t, wd_Flo_p),
    ('G', wd_G_t, wd_G_p, wd_Glo_t, wd_Glo_p),
    ('H', wd_H_t, wd_H_p, wd_Hlo_t, wd_Hlo_p),
    ('H', wd_H_isl_t, wd_H_isl_p, wd_H_isl_t[:1], wd_H_isl_p[:1]),
]
wd_left = {'open': [('C', wd_LC_t, wd_LC_p), ('D', wd_LD_t, wd_LD_p), ('E', wd_LD_t, wd_LE_p)],
           'F_t': wd_LF_t, 'F_p': wd_LF_p, 'G_t': wd_LG_t, 'G_p': wd_LG_p, 'Glo_t': wd_LGlo_t, 'Glo_p': wd_LGlo_p,
           'H_t': wd_LH_t, 'H_p': wd_LH_p, 'Hlo_t': wd_LHlo_t, 'Hlo_p': wd_LHlo_p, 'I_t': wd_LI_t, 'I_p': wd_LI_p}
panel_a(ax, (1007, 74), wd_levels, wd_left, (wd_trop_t, wd_trop_p))
for t, p in zip(wd_I_isl_t, wd_I_isl_p):
    poly(ax, t, p, BAND['I'], 2)
    ax.plot(t, p, color=LINE['I'], lw=1.5, zorder=3)
colorbar(768, 1011)
fig.text(538 / W, 1 - 745 / H, 'WDC (Antarctica)', fontsize=25.8, ha='center', va='center')

ax = add_ax(110, 1044, 966, 1166)
panel_b(ax, wd_b_t, wd_b_red, wd_b_green, wd_b_blue, 750, [0, 250, 500, 750], wd_ce)
ax = add_ax(110, 1198, 966, 1320)
panel_c(ax, [wd_c_spe1, wd_c_spe4, wd_c_spe7, wd_c_spe10], [wd_d_spe1, wd_d_spe4, wd_d_spe7, wd_d_spe10], wd_ce)

fig.savefig('out.png', dpi=100)
plt.close(fig)
